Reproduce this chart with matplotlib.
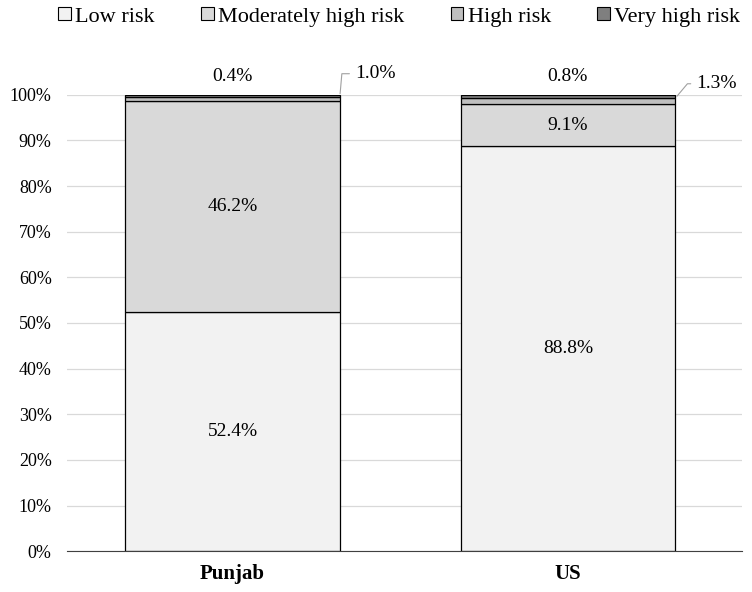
import matplotlib.pyplot as plt
from matplotlib.patches import Patch

plt.rcParams['font.family'] = ['Liberation Serif', 'DejaVu Serif']

regions = ["Punjab", "US"]
risk_levels = ["Low risk", "Moderately high risk", "High risk", "Very high risk"]
low = [52.4, 88.8]
moderate = [46.2, 9.1]
high = [1.0, 1.3]
very_high = [0.4, 0.8]
colors = ["#f2f2f2", "#d9d9d9", "#bfbfbf", "#7f7f7f"]

fig = plt.figure(figsize=(7.52, 5.92), dpi=100)
ax = fig.add_axes([0.089, 0.069, 0.898, 0.771])

series = [low, moderate, high, very_high]
x = [0, 1]
width = 0.64
bottoms = [0, 0]
for vals, col in zip(series, colors):
    ax.bar(x, vals, width, bottom=bottoms, color=col, edgecolor="black",
           linewidth=0.9, zorder=3)
    bottoms = [b + v for b, v in zip(bottoms, vals)]

# labels inside the bars and above them
for i in range(2):
    ax.text(x[i], low[i] / 2, f"{low[i]:.1f}%", ha="center", va="center", fontsize=14)
    ax.text(x[i], low[i] + moderate[i] / 2, f"{moderate[i]:.1f}%", ha="center",
            va="center", fontsize=14)
    ax.text(x[i], 104.0, f"{very_high[i]:.1f}%", ha="center", va="center", fontsize=14)

# leader labels for the thin "high risk" segments
ax.annotate(f"{high[0]:.1f}%", xy=(x[0] + width / 2, low[0] + moderate[0] + high[0]),
            xytext=(x[0] + width / 2 + 0.045, 104.6), fontsize=14, va="center",
            arrowprops=dict(arrowstyle="-", color="#a0a0a0", lw=0.8,
                            connectionstyle="angle,angleA=0,angleB=85,rad=0"))
ax.annotate(f"{high[1]:.1f}%", xy=(x[1] + width / 2, low[1] + moderate[1] + high[1]),
            xytext=(x[1] + width / 2 + 0.063, 102.4), fontsize=14, va="center",
            arrowprops=dict(arrowstyle="-", color="#a0a0a0", lw=0.8,
                            connectionstyle="angle,angleA=0,angleB=50,rad=0"))

ax.set_xlim(-0.494, 1.52)
ax.set_ylim(0, 100)
ax.set_yticks(range(0, 101, 10))
ax.set_yticklabels([f"{t}%" for t in range(0, 101, 10)], fontsize=13)
ax.set_xticks(x)
ax.set_xticklabels(regions, fontsize=15, fontweight="bold")
ax.tick_params(axis="y", length=0, pad=11)
ax.tick_params(axis="x", length=0, pad=9)
ax.yaxis.grid(True, color="#d9d9d9", linewidth=0.9, zorder=0)
for side in ["left", "right", "top"]:
    ax.spines[side].set_visible(False)
ax.spines["bottom"].set_color("#404040")
ax.spines["bottom"].set_zorder(4)

handles = [Patch(facecolor=c, edgecolor="black", linewidth=0.8) for c in colors]
fig.legend(handles, risk_levels, loc="upper center", bbox_to_anchor=(0.531, 1.022),
           ncol=4, frameon=False, fontsize=16, handlelength=0.55, handleheight=0.55,
           handletextpad=0.2, columnspacing=2.1)

fig.savefig("out.png")
